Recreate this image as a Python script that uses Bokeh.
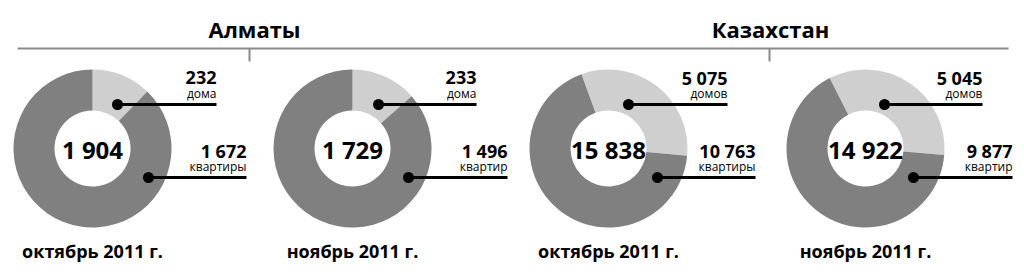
import math
from bokeh.plotting import figure
from bokeh.models import Range1d, ColumnDataSource
from bokeh.core.properties import value
from bokeh.embed import file_html
from bokeh.resources import INLINE

# ---- data ----
group_titles = ["Алматы", "Казахстан"]
periods = ["октябрь 2011 г.", "ноябрь 2011 г.", "октябрь 2011 г.", "ноябрь 2011 г."]
totals = [1904, 1729, 15838, 14922]
houses = [232, 233, 5075, 5045]
flats = [1672, 1496, 10763, 9877]
house_words = ["дома", "дома", "домов", "домов"]
flat_words = ["квартиры", "квартир", "квартиры", "квартир"]

# ---- layout / style ----
W, H = 1024, 275
centers_x = [92, 352, 608, 865]
center_y = 148
r_in, r_out = 38, 79
rot_deg = [0, 0, -20, -27]          # clockwise offset of the first slice from 12 o'clock
title_x = [254, 770]
tick_x = [249, 769]
rule_y, rule_x0, rule_x1 = 48, 17, 1008
FONT = "Open Sans"
LIGHT, DARK = "#cfcfcf", "#808080"


def fmt(v):
    return f"{v:,}".replace(",", " ")


p = figure(width=W, height=H, x_range=Range1d(0, W), y_range=Range1d(H, 0),
           output_backend="svg", toolbar_location=None, min_border=0)
p.xaxis.visible = False
p.yaxis.visible = False
p.xgrid.visible = False
p.ygrid.visible = False
p.outline_line_color = None
p.background_fill_color = "white"
p.border_fill_color = "white"

# wedges
wx, wy, ws, we, wc = [], [], [], [], []
for i in range(4):
    span = 2 * math.pi * houses[i] / totals[i]
    t0 = math.radians(rot_deg[i])
    top = math.pi / 2 - t0
    wx.append(centers_x[i]); wy.append(center_y)
    ws.append(top - span); we.append(top); wc.append(LIGHT)
    wx.append(centers_x[i]); wy.append(center_y)
    ws.append(top - 2 * math.pi); we.append(top - span); wc.append(DARK)
p.annular_wedge(x="x", y="y", inner_radius=r_in, outer_radius=r_out,
                start_angle="s", end_angle="e", direction="anticlock",
                fill_color="c", line_color=None,
                source=ColumnDataSource(dict(x=wx, y=wy, s=ws, e=we, c=wc)))

# header rule + ticks
p.segment(x0=[rule_x0] + tick_x, y0=[rule_y] * 3, x1=[rule_x1] + tick_x,
          y1=[rule_y, rule_y + 13, rule_y + 13], line_color="#8a8a8a", line_width=2)

# header titles
p.text(x=title_x, y=[28, 28], text=group_titles, text_font=value(FONT),
       text_font_style="bold", text_font_size=value("22px"), text_align="center",
       text_baseline="middle", text_color="black")

# center totals
p.text(x=centers_x, y=[center_y + 1] * 4, text=[fmt(v) for v in totals],
       text_font=value(FONT), text_font_style="bold", text_font_size=value("24px"),
       text_align="center", text_baseline="middle", text_color="black")

# period labels
p.text(x=centers_x, y=[250] * 4, text=periods, text_font=value(FONT),
       text_font_style="bold", text_font_size=value("18px"), text_align="center",
       text_baseline="middle", text_color="black")

# callouts
top_dot_dx = [25, 26, 20, 19]
bot_dot_dx = [56, 56, 49, 48]
top_right_dx = [124, 124, 119, 117]
bot_right_dx = [154, 155, 147, 147]
top_y, bot_y = 104, 177

lx0, ly0, lx1, ly1 = [], [], [], []
dx_, dy_ = [], []
nx, ny, nt = [], [], []
wx2, wy2, wt = [], [], []
for i in range(4):
    cx = centers_x[i]
    dx_.append(cx + top_dot_dx[i]); dy_.append(top_y)
    lx0.append(cx + top_dot_dx[i]); ly0.append(top_y); lx1.append(cx + top_right_dx[i]); ly1.append(top_y)
    nx.append(cx + top_right_dx[i]); ny.append(top_y - 27); nt.append(fmt(houses[i]))
    wx2.append(cx + top_right_dx[i]); wy2.append(top_y - 11); wt.append(house_words[i])
    dx_.append(cx + bot_dot_dx[i]); dy_.append(bot_y)
    lx0.append(cx + bot_dot_dx[i]); ly0.append(bot_y); lx1.append(cx + bot_right_dx[i]); ly1.append(bot_y)
    nx.append(cx + bot_right_dx[i]); ny.append(bot_y - 27); nt.append(fmt(flats[i]))
    wx2.append(cx + bot_right_dx[i]); wy2.append(bot_y - 11); wt.append(flat_words[i])

p.segment(x0=lx0, y0=ly0, x1=lx1, y1=ly1, line_color="black", line_width=3)
p.scatter(x=dx_, y=dy_, size=11, marker="circle", fill_color="black", line_color=None)
p.text(x=nx, y=ny, text=nt, text_font=value(FONT), text_font_style="bold",
       text_font_size=value("18px"), text_align="right", text_baseline="middle",
       text_color="black")
p.text(x=wx2, y=wy2, text=wt, text_font=value(FONT), text_font_style="normal",
       text_font_size=value("12px"), text_align="right", text_baseline="middle",
       text_color="black")

open("out.html", "w").write(file_html(p, INLINE))
